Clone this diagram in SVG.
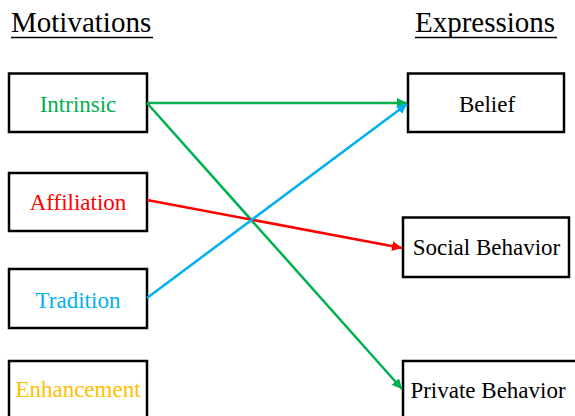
<svg xmlns="http://www.w3.org/2000/svg" width="575" height="416" viewBox="0 0 575 416">
<defs>
<style>
.box{fill:#fff;stroke:#000;stroke-width:2.5}
.lbl{font-size:23px;text-anchor:middle}
.ttl{font-size:29px;fill:#000}
.con{fill:none;stroke-width:2.5}
</style>
<marker id="ag" viewBox="0 0 10 10" refX="10" refY="5" markerWidth="4" markerHeight="4" orient="auto" markerUnits="strokeWidth"><path d="M0,0 L10,5 L0,10 z" fill="#00B050"/></marker>
<marker id="ar" viewBox="0 0 10 10" refX="10" refY="5" markerWidth="4" markerHeight="4" orient="auto" markerUnits="strokeWidth"><path d="M0,0 L10,5 L0,10 z" fill="#FF0000"/></marker>
<marker id="ab" viewBox="0 0 10 10" refX="10" refY="5" markerWidth="4" markerHeight="4" orient="auto" markerUnits="strokeWidth"><path d="M0,0 L10,5 L0,10 z" fill="#00B0F0"/></marker>
</defs>
<rect width="575" height="416" fill="#fff"/>
<g font-family="Liberation Serif, Times New Roman, DejaVu Serif, serif">
<g id="title-motivations">
<text class="ttl" x="11" y="32">Motivations</text>
<line x1="11" y1="37.5" x2="153" y2="37.5" stroke="#000" stroke-width="1.5"/>
</g>
<g id="title-expressions">
<text class="ttl" x="415" y="32">Expressions</text>
<line x1="415" y1="37.5" x2="557" y2="37.5" stroke="#000" stroke-width="1.5"/>
</g>
<g id="intrinsic">
<rect class="box" x="9" y="73.5" width="138" height="58.5"/>
<text class="lbl" x="78" y="112" fill="#00B050">Intrinsic</text>
</g>
<g id="affiliation">
<rect class="box" x="9" y="173" width="138" height="58"/>
<text class="lbl" x="78" y="210" fill="#FF0000">Affiliation</text>
</g>
<g id="tradition">
<rect class="box" x="9" y="269" width="138" height="59"/>
<text class="lbl" x="78" y="308" fill="#00B0F0">Tradition</text>
</g>
<g id="enhancement">
<rect class="box" x="9" y="361" width="138" height="62"/>
<text class="lbl" x="78" y="397" fill="#FFC000">Enhancement</text>
</g>
<g id="belief">
<rect class="box" x="408" y="73.5" width="156" height="58.5"/>
<text class="lbl" x="487" y="112" fill="#000">Belief</text>
</g>
<g id="social-behavior">
<rect class="box" x="403" y="217.5" width="166" height="59.5"/>
<text class="lbl" x="486.5" y="255" fill="#000">Social Behavior</text>
</g>
<g id="private-behavior">
<rect class="box" x="403" y="361" width="180" height="62"/>
<text class="lbl" x="488" y="398" fill="#000">Private Behavior</text>
</g>
</g>
<g id="connectors">
<line class="con" x1="147" y1="103" x2="407" y2="103" stroke="#00B050" marker-end="url(#ag)"/>
<line class="con" x1="147" y1="103" x2="402" y2="389" stroke="#00B050" marker-end="url(#ag)"/>
<line class="con" x1="147" y1="200" x2="402" y2="248" stroke="#FF0000" marker-end="url(#ar)"/>
<line class="con" x1="147" y1="298" x2="407" y2="104" stroke="#00B0F0" marker-end="url(#ab)"/>
</g>
</svg>
